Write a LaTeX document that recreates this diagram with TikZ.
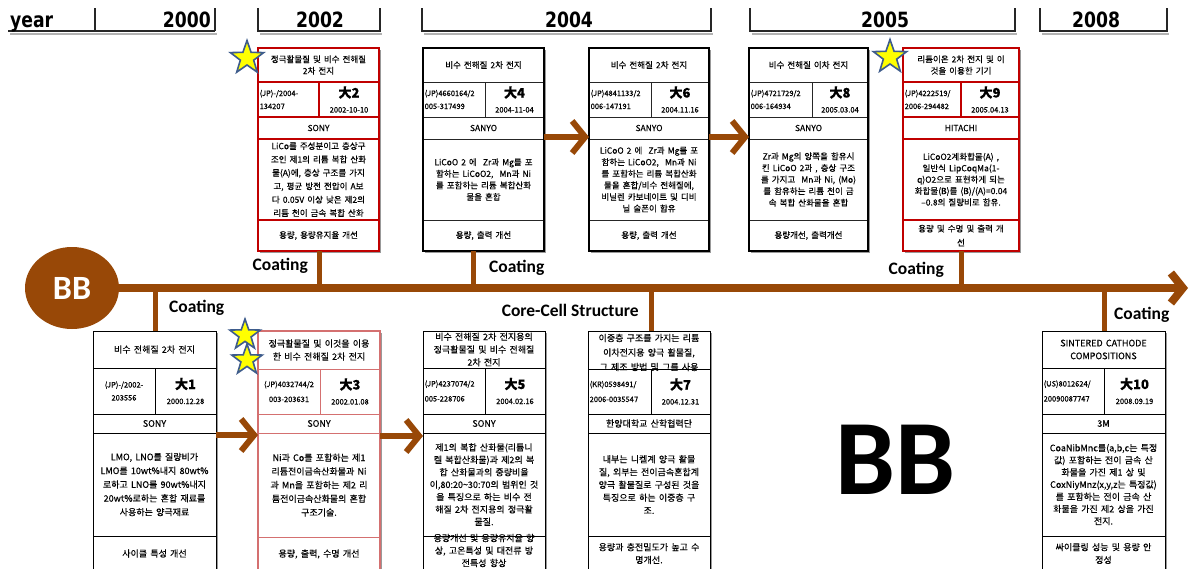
\documentclass[tikz,border=0pt]{standalone}
\usepackage{fontspec}
\setmainfont{Carlito}
\newfontfamily\kr{Noto Sans CJK KR}[WordSpace=1.6, FakeBold=0.25]
\newfontfamily\hdr{DejaVu Sans}[FakeStretch=0.82]
\usetikzlibrary{shapes.geometric,arrows.meta,fit,backgrounds,shadows}

\definecolor{tlbrown}{RGB}{152,72,7}
\definecolor{cardred}{RGB}{192,0,0}
\definecolor{cardpink}{RGB}{212,112,112}
\definecolor{starblue}{RGB}{62,92,140}
\definecolor{staryellow}{RGB}{255,255,0}

% one table cell: text node first, then its box on top
\newcommand\cell[7][]{%
  \node[celltext,#1] (#2-t) at ({(#3+#5)/2},{(#4+#6)/2}) {#7};
  \node[cellbox, minimum width={#5-#3}, minimum height={#6-#4}] (#2) at ({(#3+#5)/2},{(#4+#6)/2}) {};}
% same, text set flush left
\newcommand\lcell[7][]{%
  \node[celltext,numtext,align=left,anchor=west,#1] (#2-t) at ({#3+1.5},{(#4+#6)/2}) {#7};
  \node[cellbox, minimum width={#5-#3}, minimum height={#6-#4}] (#2) at ({(#3+#5)/2},{(#4+#6)/2}) {};}
\newcommand\rankmark[1]{{\fontsize{13}{13}\selectfont\bfseries 大#1}}
\newcommand\tld{{\char"7E}}

\tikzset{
  cellbase/.style={rectangle, inner sep=0pt, outer sep=0pt},
  blackcell/.style={cellbase, draw=black!85, line width=1pt},
  redcell/.style={cellbase, draw=cardred, line width=1.3pt},
  pinkcell/.style={cellbase, draw=cardpink, line width=1pt},
  plaincell/.style={cellbase, draw=black, line width=0.8pt},
  cellbox/.style={blackcell},
  celltext/.style={inner sep=0pt, align=center, text=black, font=\kr\fontsize{8.5}{11.6}\selectfont},
  numtext/.style={font=\kr\fontsize{7.5}{13}\selectfont},
  ranktext/.style={font=\kr\fontsize{7.5}{15}\selectfont},
  framebase/.style={rectangle, inner sep=0pt, outer sep=0pt},
  blackframe/.style={framebase, draw=black, line width=2.2pt},
  redframe/.style={framebase, draw=cardred, line width=2.8pt},
  pinkframe/.style={framebase, draw=cardpink, line width=1.6pt},
  plainframe/.style={framebase, draw=black, line width=1pt},
  cardbg/.style={framebase, fill=white, drop shadow={shadow xshift=2pt, shadow yshift=-2pt, fill=black!40, opacity=1}},
  pstar/.style={star, star points=5, star point ratio=2.5, minimum size=35pt, inner sep=0pt, fill=staryellow, draw=starblue, line width=1.6pt},
  timeline/.style={draw=tlbrown, line width=8pt, -{Straight Barb[length=12pt,width=30pt]}},
  stem/.style={draw=tlbrown, line width=5pt},
  flow/.style={draw=tlbrown, line width=6pt, -{Straight Barb[length=13pt,width=32pt]}},
  lbl/.style={inner sep=0pt, font=\bfseries\fontsize{17.5}{18}\selectfont},
  yeartext/.style={inner sep=0pt, font=\hdr\bfseries\fontsize{21}{21}\selectfont},
  hdrrule/.style={draw=black!85, line width=1.6pt},
  hdrshadow/.style={draw=black!30, line width=2pt},
}

\begin{document}
\begin{tikzpicture}[x=1pt,y=-1pt]
\useasboundingbox (0,0) rectangle (1192,568);
\clip (0,0) rectangle (1192,568);
\begin{pgfonlayer}{background}
  \fill[white] (0,0) rectangle (1192,568);
\end{pgfonlayer}

% ---------- year header ----------
\draw[hdrshadow] (10,33.5) -- (217,33.5);
\draw[hdrrule] (8,31) -- (215,31) (95,8) -- (95,31) (215,8) -- (215,31);
\foreach \xa/\xb in {258/380,422/711,750/1015,1040/1167}{
  \draw[hdrshadow] (\xa+2,33.5) -- (\xb+2,33.5);
  \draw[hdrrule] (\xa,8) -- (\xa,31) -- (\xb,31) -- (\xb,8);
}
\node[yeartext, anchor=base west] (h-year) at (10,27) {year};
\node[yeartext, anchor=base east] (h-2000) at (211,27) {2000};
\node[yeartext, anchor=base] (h-2002) at (320,27) {2002};
\node[yeartext, anchor=base] (h-2004) at (569,27) {2004};
\node[yeartext, anchor=base] (h-2005) at (885,27) {2005};
\node[yeartext, anchor=base] (h-2008) at (1096,27) {2008};

% ---------- upper row ----------
\begin{scope}[cellbox/.style={redcell}]
\cell{c2-h}{258}{48}{379}{82}{정극활물질 및 비수 전해질\\2차 전지}
\lcell{c2-n}{258}{82}{319}{117}{(JP)-/2004-\\134207}
\cell[ranktext]{c2-r}{319}{82}{379}{117}{\rankmark{2}\\2002-10-10}
\cell{c2-a}{258}{117}{379}{139}{SONY}
\cell[font=\kr\fontsize{8.5}{13.4}\selectfont]{c2-b}{258}{139}{379}{220}{LiCo를 주성분이고 층상구\\조인 제1의 리튬 복합 산화\\물(A)에, 층상 구조를 가지\\고, 평균 방전 전압이 A보\\다 0.05V 이상 낮은 제2의\\리튬 천이 금속 복합 산화}
\cell{c2-f}{258}{220}{379}{251}{용량, 용량유지율 개선}
\end{scope}

\begin{scope}[cellbox/.style={blackcell}]
\cell{c4-h}{423}{48}{544}{82}{비수 전해질 2차 전지}
\lcell{c4-n}{423}{82}{485}{117}{(JP)4660164/2\\005-317499}
\cell[ranktext]{c4-r}{485}{82}{544}{117}{\rankmark{4}\\2004-11-04}
\cell{c4-a}{423}{117}{544}{139}{SANYO}
\cell{c4-b}{423}{139}{544}{220}{LiCoO 2 에~ Zr과 Mg를 포\\함하는 LiCoO2,~ Mn과 Ni\\를 포함하는 리튬 복합산화\\물을 혼합}
\cell{c4-f}{423}{220}{544}{251}{용량, 출력 개선}

\cell{c6-h}{589}{48}{709}{82}{비수 전해질 2차 전지}
\lcell{c6-n}{589}{82}{651}{117}{(JP)4841133/2\\006-147191}
\cell[ranktext]{c6-r}{651}{82}{709}{117}{\rankmark{6}\\2004.11.16}
\cell{c6-a}{589}{117}{709}{139}{SANYO}
\cell{c6-b}{589}{139}{709}{220}{LiCoO 2 에~ Zr과 Mg를 포\\함하는 LiCoO2,~ Mn과 Ni\\를 포함하는 리튬 복합산화\\물을 혼합/비수 전해질에,\\비닐렌 카보네이트 및 디비\\닐 술폰이 함유}
\cell{c6-f}{589}{220}{709}{251}{용량, 출력 개선}

\cell{c8-h}{749}{48}{868}{82}{비수 전해질 이차 전지}
\lcell{c8-n}{749}{82}{812}{117}{(JP)4721729/2\\006-164934}
\cell[ranktext]{c8-r}{812}{82}{868}{117}{\rankmark{8}\\2005.03.04}
\cell{c8-a}{749}{117}{868}{139}{SANYO}
\cell{c8-b}{749}{139}{868}{220}{Zr과 Mg의 양쪽을 함유시\\킨 LiCoO 2과 , 층상 구조\\를 가지고~ Mn과 Ni, (Mo)\\를 함유하는 리튬 천이 금\\속 복합 산화물을 혼합}
\cell{c8-f}{749}{220}{868}{251}{용량개선, 출력개선}
\end{scope}

\begin{scope}[cellbox/.style={redcell}]
\cell{c9-h}{903}{48}{1019}{82}{리튬이온 2차 전지 및 이\\것을 이용한 기기}
\lcell{c9-n}{903}{82}{961}{117}{(JP)4222519/\\2006-294482}
\cell[ranktext]{c9-r}{961}{82}{1019}{117}{\rankmark{9}\\2005.04.13}
\cell{c9-a}{903}{117}{1019}{139}{HITACHI}
\cell[font=\kr\fontsize{8.5}{11.4}\selectfont]{c9-b}{903}{139}{1019}{220}{LiCoO2계화합물(A) ,\\일반식 LipCoqMa(1-\\q)O2으로 표현하게 되는\\화합물(B)를 (B)/(A)=0.04\\–0.8의 질량비로 함유.}
\cell[font=\kr\fontsize{8.5}{14}\selectfont]{c9-f}{903}{220}{1019}{251}{용량 및 수명 및 출력 개\\선}
\end{scope}

% ---------- lower row ----------
\begin{scope}[cellbox/.style={plaincell}, celltext/.append style={font=\kr\fontsize{9}{13}\selectfont}]
\cell{c1-h}{93}{331}{216}{368}{비수 전해질 2차 전지}
\cell[numtext]{c1-n}{93}{368}{155}{414}{(JP)-/2002-\\203556}
\cell[ranktext]{c1-r}{155}{368}{216}{414}{\rankmark{1}\\2000.12.28}
\cell{c1-a}{93}{414}{216}{433}{SONY}
\cell[font=\kr\fontsize{9}{13.8}\selectfont]{c1-b}{93}{433}{216}{536}{LMO, LNO를 질량비가\\LMO를 10wt\%내지 80wt\%\\로하고 LNO를 90wt\%내지\\20wt\%로하는 혼합 재료를\\사용하는 양극재료}
\cell{c1-f}{93}{536}{216}{571}{사이클 특성 개선}
\end{scope}

\begin{scope}[cellbox/.style={pinkcell}, celltext/.append style={font=\kr\fontsize{9}{13}\selectfont}]
\cell{c3-h}{258}{331}{380}{369}{정극활물질 및 이것을 이용\\한 비수 전해질 2차 전지}
\cell[numtext, font=\kr\fontsize{7.5}{15}\selectfont]{c3-n}{258}{369}{320}{414}{(JP)4032744/2\\003-203631}
\cell[ranktext]{c3-r}{320}{369}{380}{414}{\rankmark{3}\\2002.01.08}
\cell{c3-a}{258}{414}{380}{433}{SONY}
\cell[font=\kr\fontsize{9}{13.7}\selectfont]{c3-b}{258}{433}{380}{537}{Ni과 Co를 포함하는 제1\\리튬전이금속산화물과 Ni\\과 Mn을 포함하는 제2 리\\튬전이금속산화물의 혼합\\구조기술.}
\cell{c3-f}{258}{537}{380}{571}{용량, 출력, 수명 개선}
\end{scope}

\begin{scope}[cellbox/.style={plaincell}, celltext/.append style={font=\kr\fontsize{9}{12.8}\selectfont}]
\cell{c5-h}{423}{331}{545}{368}{비수 전해질 2차 전지용의\\정극활물질 및 비수 전해질\\2차 전지}
\lcell[font=\kr\fontsize{7.5}{15}\selectfont]{c5-n}{423}{368}{485}{414}{(JP)4237074/2\\005-228706}
\cell[ranktext]{c5-r}{485}{368}{545}{414}{\rankmark{5}\\2004.02.16}
\cell{c5-a}{423}{414}{545}{433}{SONY}
\cell[font=\kr\fontsize{9}{12.4}\selectfont]{c5-b}{423}{433}{545}{536}{제1의 복합 산화물(리튬니\\켈 복합산화물)과 제2의 복\\합 산화물과의 중량비율\\이,80:20\tld30:70의 범위인 것\\을 특징으로 하는 비수 전\\해질 2차 전지용의 정극활\\물질.}
\cell[yshift=3pt, font=\kr\fontsize{9}{12.5}\selectfont]{c5-f}{423}{536}{545}{571}{용량개선 및 용량유지율 향\\상, 고온특성 및 대전류 방\\전특성 향상}

\cell[yshift=-2.5pt, font=\kr\fontsize{9}{14.5}\selectfont]{c7-h}{588}{331}{710}{369}{이중층 구조를 가지는 리튬\\이차전지용 양극 활물질,\\그 제조 방법 및 그를 사용}
\lcell[font=\kr\fontsize{7.5}{15}\selectfont]{c7-n}{588}{369}{651}{414}{(KR)0598491/\\2006-0035547}
\cell[ranktext]{c7-r}{651}{369}{710}{414}{\rankmark{7}\\2004.12.31}
\cell{c7-a}{588}{414}{710}{433}{한양대학교 산학협력단}
\cell{c7-b}{588}{433}{710}{536}{내부는 니켈계 양극 활물\\질, 외부는 전이금속혼합계\\양극 활물질로 구성된 것을\\특징으로 하는 이중층 구\\조.}
\cell{c7-f}{588}{536}{710}{571}{용량과 충전밀도가 높고 수\\명개선.}

\cell{c10-h}{1042}{331}{1165}{368}{SINTERED CATHODE\\COMPOSITIONS}
\lcell[font=\kr\fontsize{7.5}{15}\selectfont]{c10-n}{1042}{368}{1104}{414}{(US)8012624/\\20090087747}
\cell[ranktext]{c10-r}{1104}{368}{1165}{414}{\rankmark{10}\\2008.09.19}
\cell{c10-a}{1042}{414}{1165}{433}{3M}
\cell[font=\kr\fontsize{9}{12.2}\selectfont]{c10-b}{1042}{433}{1165}{536}{CoaNibMnc를(a,b,c는 특정\\값) 포함하는 전이 금속 산\\화물을 가진 제1 상 및\\CoxNiyMnz(x,y,z는 특정값)\\를 포함하는 전이 금속 산\\화물을 가진 제2 상을 가진\\전지.}
\cell{c10-f}{1042}{536}{1165}{571}{싸이클링 성능 및 용량 안\\정성}
\end{scope}

% ---------- card frames and shadows ----------
\foreach \c/\fr in {c1/plainframe,c2/redframe,c3/pinkframe,c4/blackframe,c5/plainframe,c6/blackframe,c7/plainframe,c8/blackframe,c9/redframe,c10/plainframe}{
  \begin{pgfonlayer}{background}
    \node[cardbg, fit=(\c-h)(\c-f)] (\c-bg) {};
  \end{pgfonlayer}
  \node[\fr, fit=(\c-h)(\c-f)] (\c) {};
}

% ---------- time line ----------
\node[ellipse, fill=tlbrown, minimum width=94pt, minimum height=82pt, inner sep=0pt,
      text=white, font=\bfseries\fontsize{34}{34}\selectfont] (bb) at (72,288) {BB};
\coordinate (tl-end) at (1188,288);
\draw[timeline] (bb.east) -- (tl-end);

\draw[stem] (c2-n.east |- c2.south) -- (c2-n.east |- bb.east);
\draw[stem] ([xshift=-12pt]c4-n.east |- c4.south) -- ([xshift=-12pt]c4-n.east |- bb.east);
\draw[stem] (c9-n.east |- c9.south) -- (c9-n.east |- bb.east);
\draw[stem] (c1-n.east |- bb.east) -- (c1-n.east |- c1.north);
\draw[stem] (c7-n.east |- bb.east) -- (c7-n.east |- c7.north);
\draw[stem] (c10-n.east |- bb.east) -- (c10-n.east |- c10.north);

\node[lbl, anchor=east] (lab2) at (308,266) {Coating};
\node[lbl, anchor=west] (lab4) at (489,268) {Coating};
\node[lbl, anchor=east] (lab9) at (944,270) {Coating};
\node[lbl, anchor=west] (lab1) at (169,308) {Coating};
\node[lbl, anchor=east] (lab7) at (639,310) {Core-Cell Structure};
\node[lbl, anchor=west] (lab10) at (1114,315) {Coating};

% ---------- links between patents ----------
\draw[flow] ([yshift=2pt]c4-b.north east) -- ([yshift=2pt]c6-b.north west);
\draw[flow] ([yshift=2pt]c6-b.north east) -- ([yshift=2pt]c8-b.north west);
\draw[flow] ([yshift=-2pt]c1-b.north east) -- ([yshift=-2pt]c3-b.north west);
\draw[flow] ([yshift=-3pt]c3-b.north east) -- ([yshift=-3pt]c5-b.north west);

% ---------- key-patent stars ----------
\node[pstar] (s2) at (247,58) {};
\node[pstar] (s9) at (890,57) {};
\node[pstar, minimum size=32pt] (s3a) at (245,335) {};
\node[pstar, minimum size=32pt] (s3b) at (247,360) {};

\node[inner sep=0pt, font=\bfseries\fontsize{107}{107}\selectfont] (bigbb) at (895,460) {BB};
\end{tikzpicture}
\end{document}
